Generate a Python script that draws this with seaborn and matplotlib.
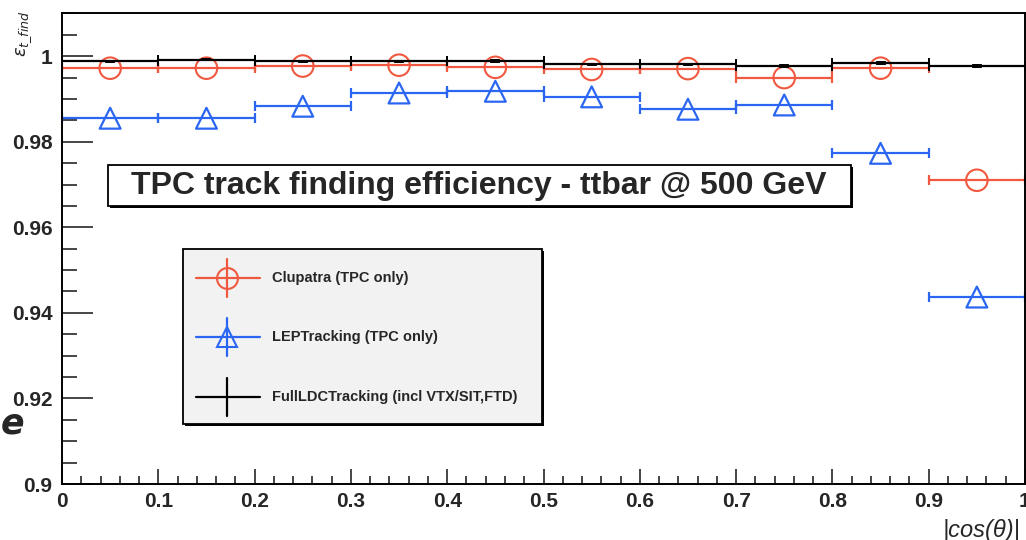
import numpy as np
import seaborn as sns
import matplotlib.pyplot as plt
from matplotlib.patches import Rectangle
from matplotlib.lines import Line2D

# |cos(theta)| bins
bin_centers = [0.05, 0.15, 0.25, 0.35, 0.45, 0.55, 0.65, 0.75, 0.85, 0.95]
bin_halfwidth = [0.05] * 10

clupatra = [0.9972, 0.9972, 0.9977, 0.9979, 0.9974, 0.9969, 0.9971, 0.9950, 0.9972, 0.9710]
leptracking = [0.9855, 0.9855, 0.9883, 0.9914, 0.9918, 0.9905, 0.9876, 0.9886, 0.9773, 0.9437]
fullldc = [0.9988, 0.9992, 0.9988, 0.9988, 0.9989, 0.9981, 0.9981, 0.9977, 0.9984, 0.9977]
fullldc_err = [0.0004] * 10

names = ["Clupatra (TPC only)", "LEPTracking (TPC only)", "FullLDCTracking (incl VTX/SIT,FTD)"]
RED = "#f0583f"
BLUE = "#2b66f2"
BLACK = "black"

W, H = 1026, 540

sns.set_style("ticks")
plt.rcParams["font.family"] = ["Liberation Sans", "DejaVu Sans"]

fig = plt.figure(figsize=(W / 100, H / 100), dpi=100)
ax = fig.add_axes([62 / W, 1 - 484 / H, (1025 - 62) / W, (484 - 13) / H])


def px(x, y):
    return (x / W, 1 - y / H)


# red
ax.errorbar(bin_centers, clupatra, xerr=bin_halfwidth, fmt="none", ecolor=RED,
            elinewidth=1.6, capsize=3.3, capthick=1.6, zorder=2)
sns.scatterplot(x=bin_centers, y=clupatra, marker="o", s=15.5 ** 2, fc="none",
                ec=RED, linewidth=1.5, ax=ax, zorder=3)

# blue
ax.errorbar(bin_centers, leptracking, xerr=bin_halfwidth, fmt="none", ecolor=BLUE,
            elinewidth=1.6, capsize=3.3, capthick=1.6, zorder=2)
sns.scatterplot(x=bin_centers, y=leptracking, marker="^", s=15 ** 2, fc="none",
                ec=BLUE, linewidth=1.6, ax=ax, zorder=3)

# black
ax.errorbar(bin_centers, fullldc, xerr=bin_halfwidth, fmt="none", ecolor=BLACK,
            elinewidth=1.6, capsize=3.6, capthick=1.4, zorder=4)
eb = ax.errorbar(bin_centers, fullldc, yerr=fullldc_err, fmt="none", ecolor=BLACK,
                 elinewidth=7, capsize=0, zorder=4)
for c in eb.lines[2]:
    c.set_capstyle("butt")

ax.set_xlim(0, 1)
ax.set_ylim(0.9, 1.0101)
ax.set_xticks(np.arange(0, 1.01, 0.1))
ax.set_xticklabels(["0", "0.1", "0.2", "0.3", "0.4", "0.5", "0.6", "0.7", "0.8", "0.9", "1"])
ax.set_xticks(np.arange(0, 1.0, 0.02), minor=True)
ax.set_yticks([0.9, 0.92, 0.94, 0.96, 0.98, 1.0])
ax.set_yticklabels(["0.9", "0.92", "0.94", "0.96", "0.98", "1"])
ax.set_yticks(np.arange(0.9, 1.0101, 0.005), minor=True)

ax.tick_params(axis="x", which="major", direction="in", length=11, width=1.2, pad=6,
               labelsize=15)
ax.tick_params(axis="x", which="minor", direction="in", length=5.5, width=1.2)
ax.tick_params(axis="y", which="major", direction="in", length=22, width=1.2, pad=7,
               labelsize=15)
ax.tick_params(axis="y", which="minor", direction="in", length=11, width=1.2)
for lab in ax.get_xticklabels() + ax.get_yticklabels():
    lab.set_fontweight("bold")
for s in ax.spines.values():
    s.set_linewidth(1.4)
    s.set_color("black")
    s.set_visible(True)

ax.set_xlabel("")
ax.set_ylabel("")

# axis titles
fig.text(*px(1020, 530), "|cos(θ)|", ha="right", va="center", fontsize=17,
         style="italic")
fig.text(*px(24, 34), r"$\varepsilon_{t\_find}$", ha="center", va="center",
         rotation=90, fontsize=13)
fig.text(*px(13, 423), "e", ha="center", va="center", fontsize=25, style="italic",
         fontweight="bold", family="DejaVu Sans")


def box(x0, y0, x1, y1, fc):
    sh = Rectangle(px(x0 + 2, y1 + 2), (x1 - x0) / W, (y1 - y0) / H,
                   transform=fig.transFigure, fc="black", ec="black", lw=0, zorder=9)
    fig.add_artist(sh)
    r = Rectangle(px(x0, y1), (x1 - x0) / W, (y1 - y0) / H,
                  transform=fig.transFigure, fc=fc, ec="black", lw=1.3, zorder=10)
    fig.add_artist(r)


# title box
box(108, 165, 851, 206, "white")
fig.text(*px(479, 186), "TPC track finding efficiency - ttbar @ 500 GeV", ha="center",
         va="center", fontsize=23, fontweight="bold", zorder=11)

# legend box
box(183, 249, 542, 424, "#f2f2f2")
entries = [(278, RED, "o"), (337, BLUE, "^"), (397, BLACK, None)]
for (yy, col, mk), name in zip(entries, names):
    fig.add_artist(Line2D([196 / W, 260 / W], [1 - yy / H] * 2, transform=fig.transFigure,
                          color=col, lw=1.6, zorder=11))
    fig.add_artist(Line2D([227 / W] * 2, [1 - (yy - 19) / H, 1 - (yy + 19) / H],
                          transform=fig.transFigure, color=col, lw=1.6, zorder=11))
    if mk:
        fig.add_artist(Line2D([227 / W], [1 - yy / H], transform=fig.transFigure,
                              marker=mk, ms=15, mfc="none", mec=col, mew=1.5, zorder=12))
    fig.text(*px(272, yy), name, ha="left", va="center", fontsize=10.5,
             fontweight="bold", zorder=12)

fig.savefig("out.png", dpi=100)
